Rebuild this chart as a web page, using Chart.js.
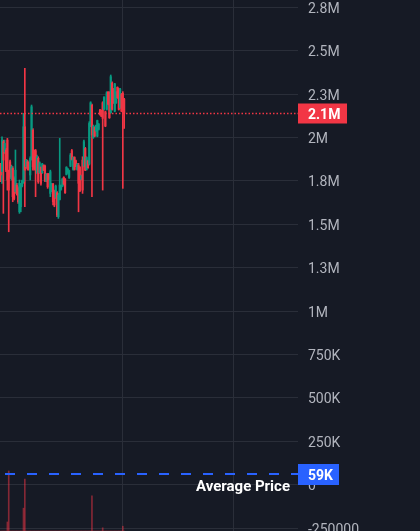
<!DOCTYPE html>
<html><head><meta charset="utf-8">
<script src="https://cdn.jsdelivr.net/npm/chart.js@4"></script>
<style>html,body{margin:0;padding:0;background:#161a25;}#wrap{width:420px;height:531px;position:relative;}</style>
</head><body><div id="wrap"><canvas id="c"></canvas></div>
<script>
// OHLC in thousands
const openK = [1832,1803,1976,1918,1928,1985,1803,1860,1764,1822,
1764,1688,1726,1707,1572,1601,1720,1745,2062,1832,
1860,1855,1784,1889,2043,1918,1924,1803,1880,1797,
1828,1797,1839,1835,1751,1789,1789,1678,1693,1732,
1693,1655,1682,1544,1643,1701,1720,1770,1761,1787,
1797,1770,1835,1924,1816,1885,1866,1816,1841,1828,
1759,1870,1835,1937,1816,1866,1847,2066,2187,2001,
2058,2037,2008,2047,2158,2152,2200,2162,2148,2162,
2260,2260,2143,2315,2279,2152,2200,2289,2279,2171,
2250,2254,2221];
const highK = [1851,2004,1985,1985,1937,1995,1812,1870,1841,1832,
1774,1928,1736,1716,1755,1736,1755,2139,2398,1874,
1870,1860,1889,2187,2052,1928,1931,1899,1889,1860,
1832,1851,1843,1841,1793,1793,1793,1812,1736,1736,
1697,1726,1688,1678,1995,1726,1764,1774,1764,1832,
1822,1812,1908,1931,1889,1889,1870,1851,1851,1832,
1784,1889,1985,1943,1889,1870,2091,2206,2193,2072,
2062,2072,2100,2081,2162,2158,2206,2235,2152,2264,
2264,2264,2360,2321,2283,2312,2264,2292,2283,2283,
2254,2264,2225];
const lowK = [1745,1736,1563,1908,1803,1697,1457,1764,1755,1630,
1640,1678,1668,1620,1563,1572,1716,1736,1601,1822,
1812,1812,1755,1870,1812,1812,1659,1793,1736,1793,
1726,1793,1809,1745,1745,1707,1755,1659,1688,1611,
1601,1649,1544,1534,1640,1697,1716,1726,1678,1784,
1793,1764,1832,1870,1812,1812,1832,1812,1572,1688,
1755,1678,1832,1809,1812,1822,1841,2062,1659,1995,
2004,2033,2004,2043,2129,2120,1697,2158,2062,2158,
2187,2110,2139,2158,2196,2148,2196,2225,2158,2168,
2148,1707,2052];
const closeK = [1784,1985,1870,1966,1812,1755,1697,1774,1832,1659,
1649,1812,1678,1630,1736,1726,1751,2062,1812,1870,
1822,1816,1880,2177,1832,1822,1874,1889,1745,1855,
1736,1847,1812,1751,1789,1716,1759,1803,1732,1630,
1611,1720,1553,1668,1726,1722,1761,1732,1682,1828,
1818,1809,1899,1874,1885,1816,1835,1847,1736,1693,
1780,1697,1976,1812,1885,1826,2081,2200,2014,2066,
2008,2068,2097,2077,2133,2123,2110,2231,2066,2258,
2191,2114,2350,2162,2200,2308,2260,2229,2162,2279,
2152,2158,2139];
const volumes = [0,0,0,0,0,17,113,0,0,0,
0,0,0,0,0,0,0,43,98,0,
0,0,0,0,0,0,0,0,0,0,
0,0,0,0,0,0,0,0,0,0,
0,0,0,0,0,0,0,0,0,0,
0,0,0,0,0,0,0,0,0,0,
0,0,0,0,0,0,0,0,66,0,
0,0,0,0,0,0,6,0,0,0,
0,0,0,0,0,0,0,0,0,0,
0,9,0];
const tickValues = [2750000,2500000,2250000,2000000,1750000,1500000,1250000,1000000,750000,500000,250000,0,-250000];
const tickLabels = ['2.8M','2.5M','2.3M','2M','1.8M','1.5M','1.3M','1M','750K','500K','250K','0','-250000'];
const averagePrice = 59000;
const averageLabel = '59K';
const averageText = 'Average Price';
const slotCount = 222;
const gridX = [90.4, 173.8];

const UP = '#089981', DOWN = '#f23645';
const idx = openK.map((_, i) => i);
const colors = idx.map(i => closeK[i] >= openK[i] ? UP : DOWN);
const wickData = idx.map(i => ({x: i, y: [lowK[i] * 1000, highK[i] * 1000]}));
const bodyData = idx.map(i => ({x: i, y: [openK[i] * 1000, closeK[i] * 1000]}));
const volData = idx.map(i => ({x: i, y: volumes[i]}));
const lastClose = closeK[closeK.length - 1] * 1000;
const lastLabel = (lastClose / 1e6).toFixed(1) + 'M';

const overlay = {
  id: 'overlay',
  afterDatasetsDraw(chart) {
    const {ctx, chartArea: a, scales: {y}} = chart;
    ctx.save();
    // last price dotted line
    const yl = Math.round(y.getPixelForValue(lastClose)) + 0.5;
    ctx.strokeStyle = DOWN; ctx.lineWidth = 1.5; ctx.setLineDash([1.5, 2]);
    ctx.beginPath(); ctx.moveTo(a.left, yl); ctx.lineTo(a.right, yl); ctx.stroke();
    // average dashed line
    const ya = Math.round(y.getPixelForValue(averagePrice));
    ctx.strokeStyle = '#2962ff'; ctx.lineWidth = 2; ctx.setLineDash([10, 12]); ctx.lineDashOffset = 17;
    ctx.beginPath(); ctx.moveTo(a.left, ya); ctx.lineTo(a.right, ya); ctx.stroke();
    ctx.setLineDash([]);
    // average text
    ctx.fillStyle = '#ffffff'; ctx.font = 'bold 15px Roboto'; ctx.textAlign = 'right'; ctx.textBaseline = 'alphabetic';
    ctx.fillText(averageText, a.right - 8, ya + 17);
    // badges
    ctx.textAlign = 'left'; ctx.textBaseline = 'middle';
    ctx.fillStyle = DOWN;
    ctx.fillRect(a.right, yl - 10, 49, 20);
    ctx.fillStyle = '#ffffff'; ctx.font = 'bold 14px Roboto';
    ctx.fillText(lastLabel, a.right + 10, yl + 1.5);
    ctx.fillStyle = '#2962ff';
    ctx.fillRect(a.right, ya - 10, 41, 21);
    ctx.fillStyle = '#ffffff';
    ctx.fillText(averageLabel, a.right + 10, ya + 2);
    ctx.restore();
  }
};

new Chart(document.getElementById('c'), {
  type: 'bar',
  data: {
    datasets: [
      {data: volData, yAxisID: 'yv', backgroundColor: 'rgba(242,54,69,0.5)', barThickness: 1, grouped: false, order: 3},
      {data: wickData, yAxisID: 'y', backgroundColor: colors, barThickness: 1, grouped: false, order: 2},
      {data: bodyData, yAxisID: 'y', backgroundColor: colors, barThickness: 1.5, grouped: false, order: 1}
    ]
  },
  options: {
    responsive: true, maintainAspectRatio: false, animation: false,
    layout: {padding: 0},
    plugins: {legend: {display: false}, tooltip: {enabled: false}},
    scales: {
      x: {
        type: 'linear', min: -0.5, max: slotCount - 0.5, offset: false,
        grid: {color: '#2a2e39', offset: false, drawTicks: false},
        border: {display: false}, ticks: {display: false},
        afterBuildTicks(s) { s.ticks = gridX.map(v => ({value: v})); }
      },
      y: {
        position: 'right', min: -266700, max: 2792000,
        grid: {color: '#2a2e39', drawTicks: false},
        border: {display: false},
        ticks: {color: '#b2b5be', font: {family: 'Roboto', size: 14}, padding: 10, labelOffset: 2,
          callback: (v, i) => tickLabels[i]},
        afterBuildTicks(s) { s.ticks = tickValues.map(v => ({value: v})); },
        afterFit(s) { s.width = 122; s.paddingTop = 0; s.paddingBottom = 0; }
      },
      yv: {display: false, min: 0, max: 1000}
    }
  },
  plugins: [overlay]
});
</script></body></html>
